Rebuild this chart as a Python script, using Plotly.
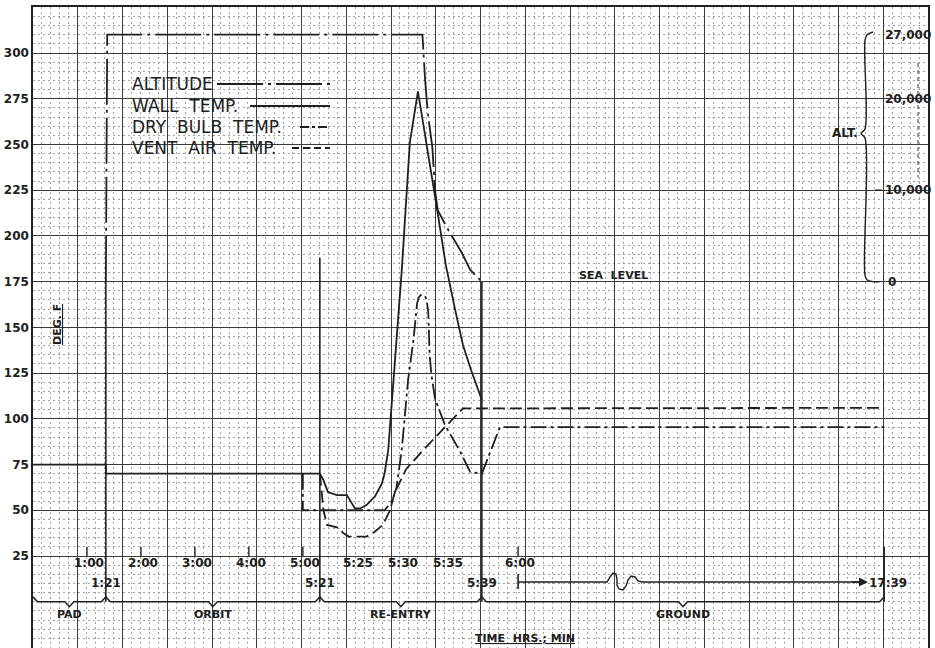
import numpy as np
import plotly.graph_objects as go

# ---------------- chart's broken time scale: minutes after start -> grid columns
SCALE_MIN = [0, 300, 321, 339, 360, 1059, 1100]
SCALE_COL = [0, 6.03, 6.41, 10.03, 10.84, 19.02, 20.0]

# ---------------- series (time in minutes, temperature in deg F, altitude in ft)
ALT_MIN = [81, 82.5, 332.4, 332.7, 333.0, 333.5, 333.8, 334.1, 335.3, 336.8, 337.7, 339.0]
ALT_FT = [0, 27000, 27000, 22000, 18400, 14700, 10000, 7800, 5600, 3100, 1300, 0]

WALL_MIN = [0, 81, 81, 321, 321.4, 321.9, 322.9, 324.0, 324.9, 325.5, 326.2, 327.1, 327.9,
            328.2, 328.6, 330.1, 331.0, 331.9, 334.0, 335.0, 336.0, 336.9, 337.8, 339.0]
WALL_F = [75, 75, 70, 70, 66.5, 60, 58.3, 58.3, 51, 51, 53, 57.4, 64.7,
          70.4, 83, 181, 251, 279, 215.5, 184, 160.4, 140.4, 126.7, 110.3]

DRY_MIN = [300, 300, 328.2, 329.0, 329.5, 330.1, 330.8, 331.4, 331.8, 332.0, 332.3, 332.7,
           332.9, 333.05, 333.2, 333.4, 333.8, 334.9, 336.6, 337.7, 339.0, 349.5, 1059]
DRY_F = [70, 50, 50, 55, 62, 83, 121, 143, 163, 166.5, 168, 167,
         164, 158, 135, 124, 111, 96.6, 82, 71, 70, 95.5, 95.5]

VENT_MIN = [321, 321.4, 321.8, 322.3, 323.0, 323.6, 324.2, 326.2, 327.1, 328.0, 328.8,
            329.3, 330.6, 332.5, 334.9, 336.9, 1059]
VENT_F = [70, 50, 42, 41.5, 40.5, 37.5, 35.6, 35.6, 38.3, 42, 50,
          59.4, 72.6, 83, 95.7, 105.7, 106]

EVENT_MIN = [81, 321, 339, 1059]
EVENT_LABELS = ["1:21", "5:21", "5:39", "17:39"]
EVENT_TOP_F = [175, 188, 175, 30]

TICK_MIN = [60, 120, 180, 240, 300, 325, 330, 335, 360]
TICK_LABELS = ["1:00", "2:00", "3:00", "4:00", "5:00", "5:25", "5:30", "5:35", "6:00"]

PHASE_NAMES = ["PAD", "ORBIT", "RE-ENTRY", "GROUND"]
PHASE_BOUNDS_MIN = [0, 81, 321, 339, 1059]

Y_TICKS = [25, 50, 75, 100, 125, 150, 175, 200, 225, 250, 275, 300]
ALT_TICKS = [0, 10000, 20000, 27000]
ALT_TICK_LABELS = ["0", "10,000", "20,000", "27,000"]

SERIES_NAMES = ["ALTITUDE", "WALL\u00a0\u00a0TEMP.", "DRY\u00a0\u00a0BULB\u00a0\u00a0TEMP.",
                "VENT\u00a0\u00a0AIR\u00a0\u00a0TEMP."]

# ---------------- helpers
def tx(m):
    return np.interp(np.asarray(m, dtype=float), SCALE_MIN, SCALE_COL)

def px_x(px):  # layout helper: pixel column -> grid column
    return (px - 33) / 44.75

def px_y(py):  # layout helper: pixel row -> deg F
    return 300 - (py - 53) / 1.8291

Y_RANGE = [-25.3, 325.15]
SEA_LEVEL_F = 175
FT_PER_DEG = 200
Y2_RANGE = [(v - SEA_LEVEL_F) * FT_PER_DEG for v in Y_RANGE]

INK = "#202020"
FONT = "DejaVu Sans"

ALT_DASH = "46px,5px,3px,5px"
DRY_DASH = "16px,4px,3px,4px"
VENT_DASH = "12px,5px"

fig = go.Figure()

fig.add_trace(go.Scatter(x=tx(ALT_MIN), y=ALT_FT, yaxis="y2", mode="lines",
                         line=dict(color=INK, width=1.8, dash=ALT_DASH), hoverinfo="skip"))
fig.add_trace(go.Scatter(x=tx(WALL_MIN), y=WALL_F, mode="lines",
                         line=dict(color=INK, width=1.8), hoverinfo="skip"))
fig.add_trace(go.Scatter(x=tx(DRY_MIN), y=DRY_F, mode="lines",
                         line=dict(color=INK, width=1.8, dash=DRY_DASH), hoverinfo="skip"))
fig.add_trace(go.Scatter(x=tx(VENT_MIN), y=VENT_F, mode="lines",
                         line=dict(color=INK, width=1.8, dash=VENT_DASH), hoverinfo="skip"))

# event lines
ex, ey = [], []
for m, top in zip(EVENT_MIN, EVENT_TOP_F):
    u = float(tx(m))
    ex += [u, u, None]
    ey += [top, 0, None]
fig.add_trace(go.Scatter(x=ex, y=ey, mode="lines", line=dict(color=INK, width=1.6),
                         hoverinfo="skip"))

# hour tick marks on the 25 line
hx, hy = [], []
for m in TICK_MIN:
    if m % 60 == 0:
        u = float(tx(m))
        hx += [u, u, None]
        hy += [25, 30, None]
fig.add_trace(go.Scatter(x=hx, y=hy, mode="lines", line=dict(color=INK, width=1.4),
                         hoverinfo="skip"))

# phase brace
bu = [float(v) for v in tx(PHASE_BOUNDS_MIN)]
h, w = 2.7, 0.1
bx, by = [bu[0], bu[0] + w], [h, 0]
for i in range(len(PHASE_NAMES)):
    c = (bu[i] + bu[i + 1]) / 2
    bx += [c - w, c, c + w]
    by += [0, -h, 0]
    b = bu[i + 1]
    if i < len(PHASE_NAMES) - 1:
        bx += [b - w, b, b + w]
        by += [0, h, 0]
    else:
        bx += [b - w, b]
        by += [0, h]
fig.add_trace(go.Scatter(x=bx, y=by, mode="lines", line=dict(color=INK, width=1.5),
                         hoverinfo="skip"))

# time-break arrow (6:00 -> 17:39)
ay = px_y(582)
u6 = float(tx(360))
fig.add_trace(go.Scatter(x=[u6, u6], y=[px_y(574), px_y(589)], mode="lines",
                         line=dict(color=INK, width=1.6), hoverinfo="skip"))
sq = [(0, 0), (3, -5), (6, -9), (9, -8), (10, -3), (10, 3), (12, 7), (16, 8), (19, 4),
      (21, -2), (24, -6), (28, -5), (31, -1), (35, 0)]
sx = [u6] + [px_x(607 + a) for a, _ in sq] + [px_x(866)]
sy = [ay] + [px_y(582 + b) for _, b in sq] + [ay]
fig.add_trace(go.Scatter(x=sx, y=sy, mode="lines", line=dict(color=INK, width=1.4),
                         hoverinfo="skip"))
annotations = []
annotations.append(dict(x=px_x(868), y=ay, ax=px_x(850), ay=ay, xref="x", yref="y",
                        axref="x", ayref="y", text="", showarrow=True, arrowhead=2,
                        arrowsize=1.2, arrowwidth=1.5, arrowcolor="#202020"))

# ALT brace (in altitude units)
abx = [px_x(p) for p in [873, 867, 865, 865, 861, 865, 865, 867, 873, 880]]
aby = [27300, 27000, 26400, 16700, 16200, 15700, 700, 200, 0, 0]
fig.add_trace(go.Scatter(x=abx, y=aby, yaxis="y2", mode="lines",
                         line=dict(color=INK, width=1.4, shape="spline"), hoverinfo="skip"))

def txt(x, y, s, size=12, bold=True, xanchor="center", yref="y", **kw):
    annotations.append(dict(x=x, y=y, xref="x", yref=yref, text=(f"<b>{s}</b>" if bold else s),
                            showarrow=False, xanchor=xanchor, yanchor="middle",
                            font=dict(family=FONT, size=size, color=INK), **kw))

# legend
leg_rows = [84, 106, 127, 148]
leg_start = [217, 250, 300, 292]
leg_dash = [ALT_DASH, "solid", "9px,3px,3px,3px", "7px,4px"]
shapes = []
for name, ry, sx0, dsh in zip(SERIES_NAMES, leg_rows, leg_start, leg_dash):
    txt(px_x(130), px_y(ry), name, size=17, bold=False, xanchor="left")
    shapes.append(dict(type="line", xref="x", yref="y", x0=px_x(sx0), x1=px_x(330),
                       y0=px_y(ry), y1=px_y(ry), line=dict(color=INK, width=1.8, dash=dsh)))

# time tick labels
for m, lab in zip(TICK_MIN, TICK_LABELS):
    txt(float(tx(m)), px_y(563), lab, size=12, xshift=2)
for m, lab in zip(EVENT_MIN, EVENT_LABELS):
    txt(float(tx(m)), px_y(583), lab, size=12, xshift=(4 if lab == "17:39" else 0))
for i, name in enumerate(PHASE_NAMES):
    c = (bu[i] + bu[i + 1]) / 2
    txt(c, px_y(615), name, size=11)

txt(px_x(525), px_y(639), "<u>TIME\u00a0\u00a0HRS.;\u00a0MIN</u>", size=11)
txt(px_x(613), px_y(275), "SEA\u00a0\u00a0LEVEL", size=11)
txt(px_x(57), px_y(325), "<u>DEG.\u00a0F</u>", size=11, textangle=-90)
txt(px_x(860), px_y(133), "ALT.", size=12, xanchor="right")
for v, lab in zip(ALT_TICKS, ALT_TICK_LABELS):
    txt(px_x(883 if v else 886), v, lab, size=12, xanchor="left", yref="y2")

# dashed altitude scale line and small tick before 10,000
shapes.append(dict(type="line", xref="x", yref="y2", x0=px_x(918), x1=px_x(918),
                   y0=23900, y1=11400, line=dict(color="#555", width=1.2, dash="4px,3px")))
shapes.append(dict(type="line", xref="x", yref="y2", x0=px_x(875), x1=px_x(882),
                   y0=10000, y1=10000, line=dict(color=INK, width=1.4)))

grid_major = "#3c3c3c"
grid_minor = "#a0a0a0"

fig.update_layout(
    width=935, height=648,
    margin=dict(l=33, r=7, t=7, b=0, autoexpand=False),
    paper_bgcolor="white", plot_bgcolor="white",
    showlegend=False,
    annotations=annotations,
    shapes=shapes,
    xaxis=dict(range=[0, 20], tick0=0, dtick=1, showticklabels=False, ticks="",
               automargin=False,
               showgrid=True, gridcolor=grid_major, gridwidth=1.2, zeroline=False,
               showline=True, mirror=True, linecolor=INK, linewidth=1.5,
               minor=dict(tickmode="linear", tick0=0, dtick=0.2, showgrid=True,
                          gridcolor=grid_minor, griddash="2px,3px", gridwidth=1)),
    yaxis=dict(range=Y_RANGE, tickmode="array", tickvals=Y_TICKS,
               ticktext=[f"<b>{v}</b>" for v in Y_TICKS], automargin=False,
               tickfont=dict(family=FONT, size=12, color=INK), ticks="",
               showgrid=True, gridcolor=grid_major, gridwidth=1.2, zeroline=False,
               showline=True, mirror=True, linecolor=INK, linewidth=1.5,
               minor=dict(tickmode="linear", tick0=0, dtick=5, showgrid=True,
                          gridcolor=grid_minor, griddash="2px,3px", gridwidth=1)),
    yaxis2=dict(range=Y2_RANGE, overlaying="y", visible=False),
)

fig.write_html("out.html", config={"displayModeBar": False},
               post_script="document.body.style.margin='0';document.body.style.overflow='hidden';")
